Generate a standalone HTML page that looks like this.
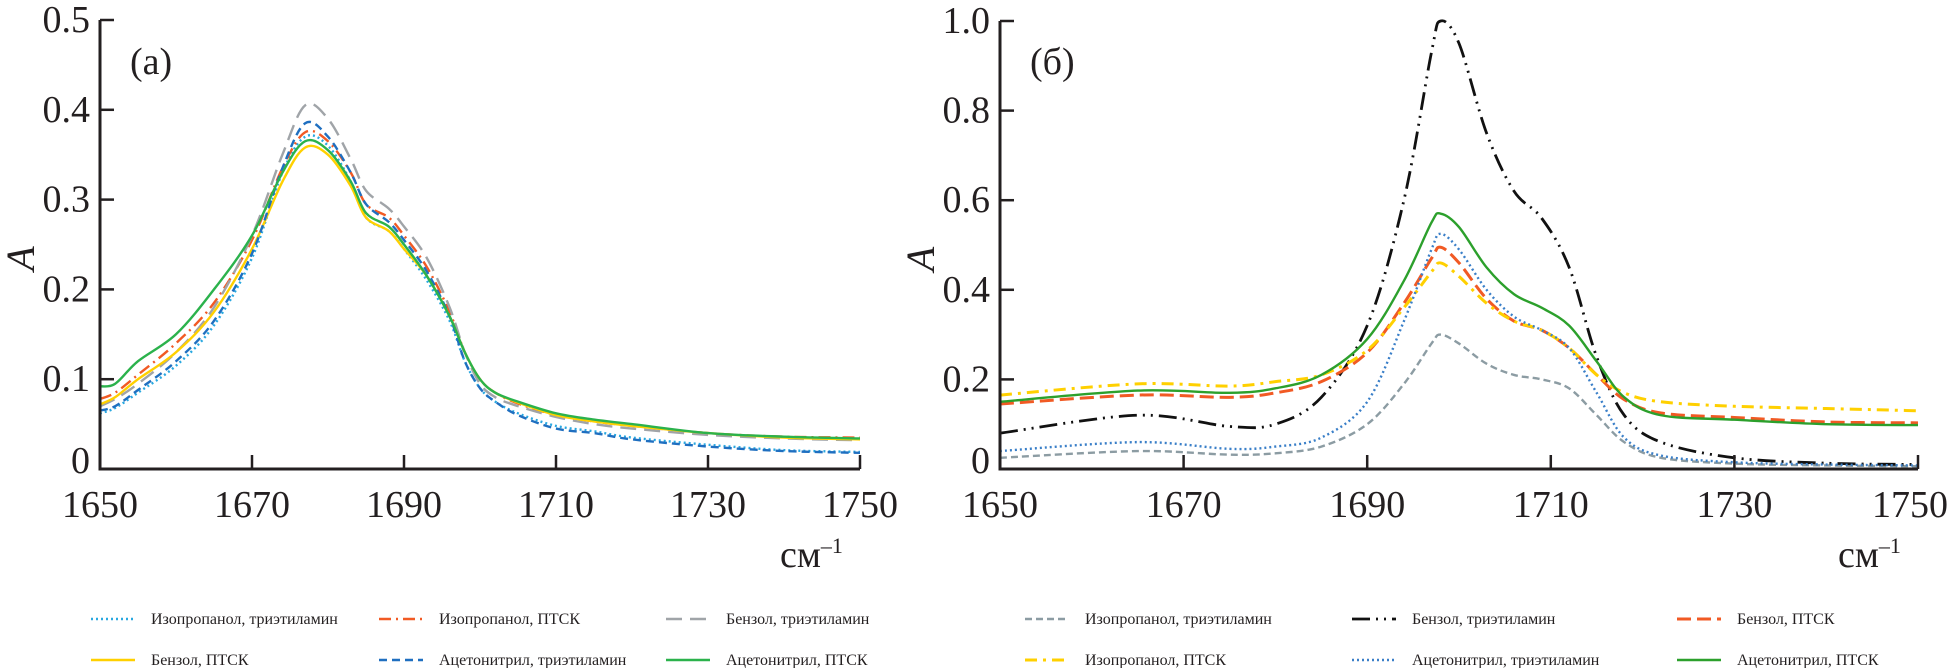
<!DOCTYPE html>
<html><head><meta charset="utf-8"><style>
html,body{margin:0;padding:0;background:#fff;}
svg{display:block;font-family:"Liberation Serif",serif;}
</style></head><body>
<svg id="svg" width="1949" height="668" viewBox="0 0 1949 668" xmlns="http://www.w3.org/2000/svg">
<g id="chartA"></g>
<g id="chartB"></g>
<g id="legends"></g>
</svg>
<script>
// ---- data: chart (a)
const xA = [1650,1652,1655,1660,1665,1670,1674,1677,1680,1683,1685,1688,1690,1693,1696,1698,1700,1702,1705,1710,1715,1720,1730,1740,1750];
const aIsoTea = [0.062,0.068,0.085,0.115,0.16,0.235,0.33,0.37,0.36,0.32,0.28,0.265,0.245,0.21,0.165,0.12,0.09,0.075,0.062,0.048,0.042,0.035,0.027,0.021,0.019];
const aIsoPtsk = [0.078,0.085,0.105,0.14,0.185,0.255,0.335,0.375,0.365,0.33,0.295,0.28,0.26,0.225,0.175,0.13,0.1,0.085,0.073,0.06,0.053,0.048,0.04,0.036,0.035];
const aBenTea = [0.07,0.078,0.095,0.13,0.18,0.26,0.35,0.405,0.39,0.345,0.31,0.29,0.27,0.235,0.18,0.13,0.095,0.08,0.07,0.058,0.05,0.045,0.038,0.034,0.032];
const aBenPtsk = [0.072,0.08,0.1,0.13,0.175,0.245,0.32,0.358,0.35,0.315,0.28,0.265,0.245,0.215,0.17,0.13,0.1,0.085,0.074,0.06,0.053,0.048,0.04,0.035,0.033];
const aAceTea = [0.065,0.07,0.088,0.12,0.165,0.24,0.335,0.385,0.37,0.33,0.295,0.275,0.255,0.22,0.17,0.12,0.09,0.075,0.06,0.045,0.04,0.033,0.025,0.02,0.018];
const aAcePtsk = [0.092,0.095,0.12,0.15,0.2,0.26,0.33,0.365,0.355,0.32,0.285,0.27,0.25,0.215,0.17,0.13,0.1,0.085,0.075,0.062,0.055,0.05,0.04,0.036,0.034];
const aTicksX = [1650,1670,1690,1710,1730,1750];
const aTicksY = [0,0.1,0.2,0.3,0.4,0.5];
const aTickLabelsY = ["0","0.1","0.2","0.3","0.4","0.5"];
// ---- data: chart (б)
const xB = [1650,1665,1675,1680,1685,1690,1694,1697,1698,1700,1703,1706,1709,1712,1715,1718,1722,1730,1740,1750];
const bIsoTea = [0.025,0.04,0.032,0.035,0.05,0.1,0.19,0.28,0.3,0.28,0.235,0.21,0.2,0.18,0.12,0.06,0.025,0.012,0.008,0.006];
const bBenTea = [0.08,0.12,0.095,0.1,0.16,0.32,0.6,0.93,1.0,0.95,0.75,0.62,0.56,0.45,0.25,0.12,0.06,0.025,0.013,0.01];
const bBenPtsk = [0.145,0.165,0.16,0.17,0.195,0.26,0.37,0.47,0.495,0.46,0.38,0.33,0.31,0.27,0.21,0.155,0.125,0.115,0.105,0.103];
const bIsoPtsk = [0.165,0.19,0.185,0.195,0.21,0.265,0.36,0.44,0.46,0.43,0.37,0.33,0.31,0.27,0.21,0.17,0.15,0.14,0.135,0.13];
const bAceTea = [0.04,0.06,0.045,0.05,0.07,0.15,0.33,0.49,0.525,0.49,0.4,0.34,0.31,0.27,0.17,0.07,0.03,0.015,0.01,0.008];
const bAcePtsk = [0.15,0.175,0.17,0.18,0.21,0.29,0.42,0.55,0.57,0.54,0.45,0.39,0.36,0.32,0.24,0.16,0.12,0.11,0.1,0.098];
const bTicksX = [1650,1670,1690,1710,1730,1750];
const bTicksY = [0,0.2,0.4,0.6,0.8,1.0];
const bTickLabelsY = ["0","0.2","0.4","0.6","0.8","1.0"];

const NS="http://www.w3.org/2000/svg";
function mk(tag,attrs,parent){const e=document.createElementNS(NS,tag);for(const k in attrs)e.setAttribute(k,attrs[k]);parent.appendChild(e);return e;}
function smooth(pts){let d="M"+pts[0][0]+","+pts[0][1];for(let i=0;i<pts.length-1;i++){const p0=pts[Math.max(0,i-1)],p1=pts[i],p2=pts[i+1],p3=pts[Math.min(pts.length-1,i+2)];const c1x=p1[0]+(p2[0]-p0[0])/6,c1y=p1[1]+(p2[1]-p0[1])/6,c2x=p2[0]-(p3[0]-p1[0])/6,c2y=p2[1]-(p3[1]-p1[1])/6;d+=" C"+c1x+","+c1y+" "+c2x+","+c2y+" "+p2[0]+","+p2[1];}return d;}

function chart(g,cfg){
  const sx=v=>cfg.x0+(v-1650)/100*(cfg.x1-cfg.x0);
  const sy=v=>cfg.y0-(v/cfg.ymax)*(cfg.y0-cfg.y1);
  cfg.series.forEach(s=>{
    const p=mk("path",{d:smooth(s.xs.map((x,i)=>[sx(x),sy(s.ys[i])])),fill:"none",stroke:s.c,"stroke-width":s.w||2.4,"stroke-dasharray":s.dash||"none"},g);
    
    
  });
  const ax=mk("path",{d:`M${cfg.x0},${cfg.y1} V${cfg.y0} H${cfg.x1}`,fill:"none",stroke:"#231f20","stroke-width":3},g);
  
  
  cfg.tx.forEach((t,i)=>{
    const x=sx(t);
    const tk=mk("line",{x1:x,x2:x,y1:cfg.y0,y2:cfg.y0-14,stroke:"#231f20","stroke-width":2.5},g);
    
    
    let lx=x, anchor="middle";
    if(x+40>1949){lx=1948;anchor="end";}
    const tl=mk("text",{x:lx,y:cfg.y0+48,"font-size":38,"text-anchor":anchor,fill:"#231f20"},g);tl.textContent=t;
    
    
  });
  cfg.ty.forEach((t,i)=>{
    const y=sy(t);
    if(i>0){const tk=mk("line",{x1:cfg.x0,x2:cfg.x0+14,y1:y,y2:y,stroke:"#231f20","stroke-width":2.5},g);
    
    }
    const tl=mk("text",{x:cfg.x0-10,y:y+(i==0?4:12),"font-size":38,"text-anchor":"end",fill:"#231f20"},g);tl.textContent=cfg.tyl[i];
    
    
  });
  const yt=mk("text",{x:0,y:0,"font-size":40,"font-style":"italic",fill:"#231f20",transform:`translate(${cfg.x0-66},${(cfg.y0+cfg.y1)/2+14}) rotate(-90)`,"text-anchor":"middle"},g);yt.textContent="A";
  
  
  const xt=mk("text",{x:cfg.x1-80,y:cfg.y0+98,"font-size":38,fill:"#231f20"},g);xt.innerHTML='см<tspan font-size="22" dy="-14">–1</tspan>';
  
  
  const pl=mk("text",{x:cfg.x0+30,y:74,"font-size":38,fill:"#231f20"},g);pl.textContent=cfg.label;
  
  
}

const A=[
 {name:"iso-tea-a",xs:xA,ys:aIsoTea,c:"#29a8e0",dash:"2 3",lab:"Изопропанол, триэтиламин"},
 {name:"iso-ptsk-a",xs:xA,ys:aIsoPtsk,c:"#f15a24",dash:"12 5 2 5",lab:"Изопропанол, ПТСК"},
 {name:"ben-tea-a",xs:xA,ys:aBenTea,c:"#a0a4a8",dash:"16 8",lab:"Бензол, триэтиламин"},
 {name:"ben-ptsk-a",xs:xA,ys:aBenPtsk,c:"#ffd000",lab:"Бензол, ПТСК"},
 {name:"ace-tea-a",xs:xA,ys:aAceTea,c:"#1f6fc0",dash:"8 5",lab:"Ацетонитрил, триэтиламин"},
 {name:"ace-ptsk-a",xs:xA,ys:aAcePtsk,c:"#2bb24c",lab:"Ацетонитрил, ПТСК"}];
const B=[
 {name:"iso-tea-b",xs:xB,ys:bIsoTea,c:"#8c9ca3",dash:"7 4",lab:"Изопропанол, триэтиламин"},
 {name:"ben-tea-b",xs:xB,ys:bBenTea,c:"#111",dash:"18 6 2 6 2 6",w:2.8,lab:"Бензол, триэтиламин"},
 {name:"ben-ptsk-b",xs:xB,ys:bBenPtsk,c:"#f15a24",dash:"14 6",w:3,lab:"Бензол, ПТСК"},
 {name:"iso-ptsk-b",xs:xB,ys:bIsoPtsk,c:"#ffd000",dash:"12 6 3 6",w:3,lab:"Изопропанол, ПТСК"},
 {name:"ace-tea-b",xs:xB,ys:bAceTea,c:"#3a7fc8",dash:"2 3",lab:"Ацетонитрил, триэтиламин"},
 {name:"ace-ptsk-b",xs:xB,ys:bAcePtsk,c:"#2ca02c",lab:"Ацетонитрил, ПТСК"}];

chart(document.getElementById("chartA"),{x0:100,x1:860,y0:469,y1:20,ymax:0.5,tx:aTicksX,ty:aTicksY,tyl:aTickLabelsY,series:A,label:"(a)"});
chart(document.getElementById("chartB"),{x0:1000,x1:1918,y0:469,y1:21,ymax:1.0,tx:bTicksX,ty:bTicksY,tyl:bTickLabelsY,series:B,label:"(б)"});

const lg=document.getElementById("legends");
function legend(list,cols,rows){
  list.forEach((s,i)=>{
    const c=i%3,r=Math.floor(i/3);
    const x=cols[c],y=rows[r];
    const l=mk("line",{x1:x,x2:x+44,y1:y,y2:y,stroke:s.c,"stroke-width":s.w||2.4,"stroke-dasharray":s.dash||"none"},lg);
    
    
    const t=mk("text",{x:x+60,y:y+5,"font-size":16,fill:"#231f20"},lg);t.textContent=s.lab;
    
    
  });
}
legend(A,[91,379,666],[619,660]);
legend(B,[1025,1352,1677],[619,660]);
</script>
</body></html>
